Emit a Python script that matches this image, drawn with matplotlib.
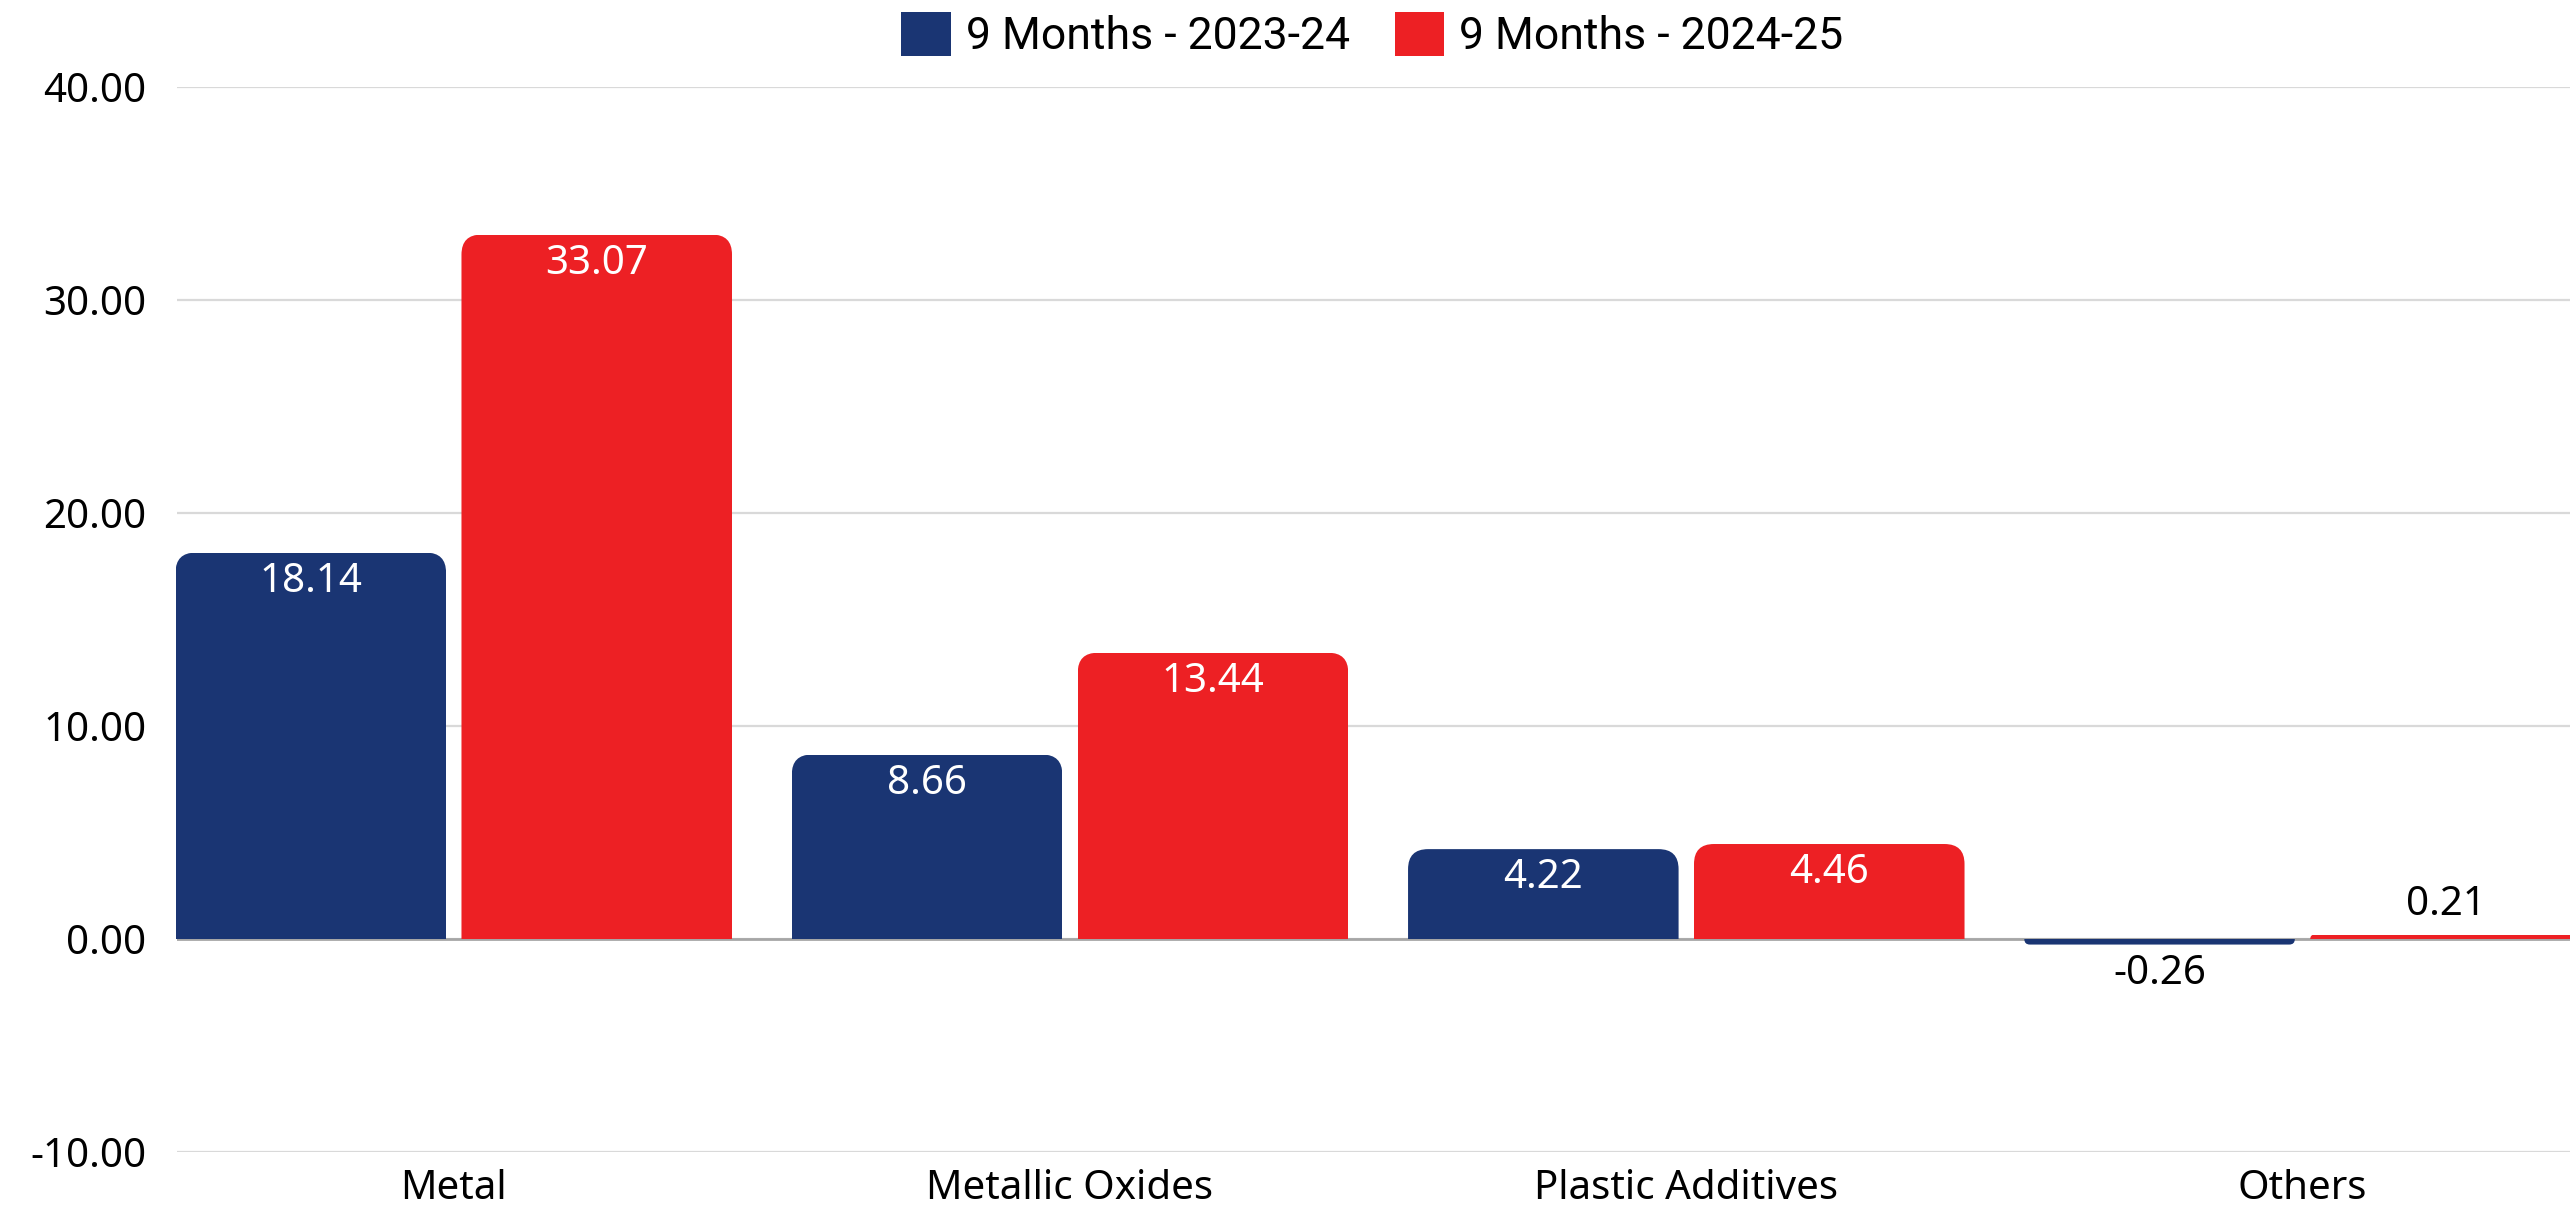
import matplotlib
matplotlib.use("Agg")
import matplotlib.pyplot as plt
from matplotlib.patches import FancyBboxPatch
import numpy as np

categories = ["Metal", "Metallic Oxides", "Plastic Additives", "Others"]
fy2324 = [18.14, 8.66, 4.22, -0.26]
fy2425 = [33.07, 13.44, 4.46, 0.21]
series_names = ["9 Months - 2023-24", "9 Months - 2024-25"]
colors = ["#1a3573", "#ed2024"]
yticks = [-10, 0, 10, 20, 30, 40]

plt.rcParams['font.family'] = ['Noto Sans', 'DejaVu Sans']

fig = plt.figure(figsize=(25.7, 12.16), dpi=100)
ax = fig.add_axes([0.0689, 0.0526, 0.9311, 0.8759])

x = np.arange(len(categories))
width = 0.439
offset = 0.232
ax.set_xlim(-0.449, 3.434)
ax.set_ylim(-10, 40)

# px per data unit, used to keep the corner rounding circular
ax_w = fig.get_figwidth() * fig.dpi * 0.9311
ax_h = fig.get_figheight() * fig.dpi * 0.8759
px_x = ax_w / (3.434 + 0.449)
px_y = ax_h / 50.0

for vals, col, off, name in zip([fy2324, fy2425], colors, [-offset, offset], series_names):
    bars = ax.bar(x + off, vals, width, color=col, label=name, zorder=3)
    for b, v in zip(bars, vals):
        b.set_visible(False)
        s = 1 if v >= 0 else -1
        r_px = min(20, abs(v) * px_y)
        rx = r_px / px_x
        ry = r_px / px_y
        ext = abs(v) + 2 * ry
        ybot = v - ext if s > 0 else v
        patch = FancyBboxPatch((b.get_x(), ybot), width, ext,
                               boxstyle="round,pad=0,rounding_size=%f" % rx,
                               mutation_aspect=ry / rx, facecolor=col,
                               edgecolor="none", zorder=3)
        ax.add_patch(patch)
        patch.set_clip_path(b)
        if abs(v) > 2:
            ax.annotate("%.2f" % v, (b.get_x() + width / 2, v), xytext=(0, -21),
                        textcoords="offset points", ha="center", va="center",
                        color="white", fontsize=29, zorder=4)
        else:
            ax.annotate("%.2f" % v, (b.get_x() + width / 2, v), xytext=(0, 21 * s),
                        textcoords="offset points", ha="center", va="center",
                        color="black", fontsize=29, zorder=4)

ax.set_yticks(yticks)
ax.set_yticklabels(["%.2f" % t for t in yticks])
ax.set_xticks(x)
ax.set_xticklabels(categories)
ax.tick_params(axis="both", length=0, labelsize=29)
ax.tick_params(axis="y", pad=22)
ax.tick_params(axis="x", pad=12)
ax.grid(axis="y", color="#d9d9d9", linewidth=1.6, zorder=0)
ax.axhline(0, color="#a6a6a6", linewidth=2, zorder=2)
for sp in ax.spines.values():
    sp.set_visible(False)

handles, labels = ax.get_legend_handles_labels()
leg = fig.legend(handles, labels, loc="center", bbox_to_anchor=(0.534, 0.971), ncol=2,
                 frameon=False, handlelength=1.12, handleheight=1.12, handletextpad=0.34,
                 columnspacing=1.0, prop={'family': ['Roboto', 'DejaVu Sans'], 'size': 32})
for h in leg.legend_handles:
    h.set_visible(True)

fig.savefig("out.png", dpi=100)
